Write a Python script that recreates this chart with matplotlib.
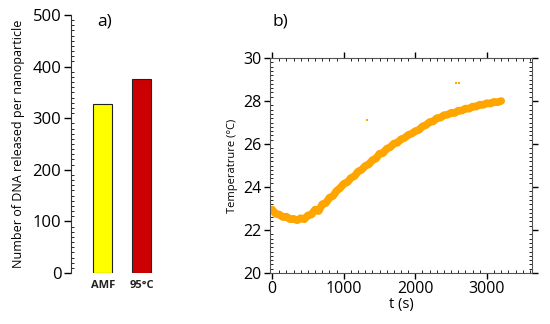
import matplotlib
matplotlib.use("Agg")
import matplotlib.pyplot as plt
from matplotlib.ticker import MultipleLocator

plt.rcParams['font.family'] = ['Open Sans', 'DejaVu Sans']

# Panel a data
categories = ["AMF", "95°C"]
dna_released = [328, 376]
bar_colors = ["#FFFF00", "#CC0000"]

# Panel b data
time_s = [0, 50, 100, 150, 200, 250, 300, 350, 400, 450, 500, 550, 600, 650,
          700, 750, 800, 850, 900, 950, 1000, 1050, 1100, 1150, 1200, 1250,
          1300, 1350, 1400, 1450, 1500, 1550, 1600, 1650, 1700, 1750, 1800,
          1850, 1900, 1950, 2000, 2050, 2100, 2150, 2200, 2250, 2300, 2350,
          2400, 2450, 2500, 2550, 2600, 2650, 2700, 2750, 2800, 2850, 2900,
          2950, 3000, 3050, 3100, 3150, 3200]
temperature = [22.95, 22.75, 22.72, 22.60, 22.62, 22.50, 22.52, 22.45, 22.55,
               22.50, 22.68, 22.72, 22.95, 22.88, 23.20, 23.25, 23.50, 23.58,
               23.82, 23.95, 24.15, 24.22, 24.42, 24.50, 24.72, 24.80, 24.98,
               25.05, 25.25, 25.32, 25.55, 25.58, 25.78, 25.85, 26.02, 26.06,
               26.22, 26.28, 26.42, 26.48, 26.60, 26.65, 26.82, 26.88, 27.02,
               27.05, 27.20, 27.22, 27.34, 27.36, 27.45, 27.44, 27.55, 27.55,
               27.65, 27.64, 27.74, 27.74, 27.83, 27.82, 27.90, 27.88, 27.96,
               27.94, 28.00]
outlier_t = [1332, 2570, 2616]
outlier_T = [27.12, 28.82, 28.82]

fig = plt.figure(figsize=(5.5, 3.24), dpi=100)

# ---- Panel a ----
ax1 = fig.add_axes([71/550, 1-273/324, 86/550, 258/324])
x = [0, 1]
ax1.bar(x, dna_released, width=0.5, color=bar_colors, edgecolor="#222222", linewidth=0.8)
ax1.set_xlim(-0.82, 1.4)
ax1.set_ylim(0, 500)
ax1.set_xticks(x)
ax1.set_xticklabels(categories, fontsize=8, fontweight='bold', color="#222222")
ax1.tick_params(axis='x', length=0, pad=5)
ax1.yaxis.set_major_locator(MultipleLocator(100))
ax1.yaxis.set_minor_locator(MultipleLocator(10))
ax1.tick_params(axis='y', which='major', direction='out', length=5, width=1, labelsize=12, pad=2)
ax1.tick_params(axis='y', which='minor', direction='in', length=2.5, width=0.6)
for s in ['top', 'right', 'bottom']:
    ax1.spines[s].set_visible(False)
ax1.spines['left'].set_color("#333333")
ax1.set_ylabel("Number of DNA released per nanoparticle", fontsize=9, labelpad=5)
fig.text(105/550, 1-22/324, "a)", fontsize=12.5, ha='center', va='center')

# ---- Panel b ----
ax2 = fig.add_axes([270/550, 1-273/324, 262/550, 215/324])
ax2.plot(time_s, temperature, color="#FFA500", linewidth=5.5,
         solid_joinstyle='round', solid_capstyle='round')
ax2.plot(outlier_t, outlier_T, linestyle='none', marker='s', markersize=1.8,
         color="#FFA500", markeredgewidth=0)
ax2.set_xlim(-30, 3630)
ax2.set_ylim(20, 30)
ax2.xaxis.set_minor_locator(MultipleLocator(100))
ax2.yaxis.set_major_locator(MultipleLocator(2))
ax2.yaxis.set_minor_locator(MultipleLocator(0.2))
ax2.set_xticks([0, 1000, 2000, 3000])
ax2.tick_params(axis='both', which='major', direction='out', length=4, width=1,
                labelsize=11.5, pad=2, top=True, right=True, labeltop=False, labelright=False)
ax2.tick_params(axis='both', which='minor', direction='in', length=2, width=0.6,
                top=True, right=True)
for s in ax2.spines.values():
    s.set_color("#555555")
ax2.set_xlabel("t (s)", fontsize=10.5, labelpad=0)
ax2.set_ylabel("Temperatrure (°C)", fontsize=8, labelpad=4)
fig.text(273/550, 1-22/324, "b)", fontsize=12.5, ha='left', va='center')

fig.savefig("out.png", dpi=100)
